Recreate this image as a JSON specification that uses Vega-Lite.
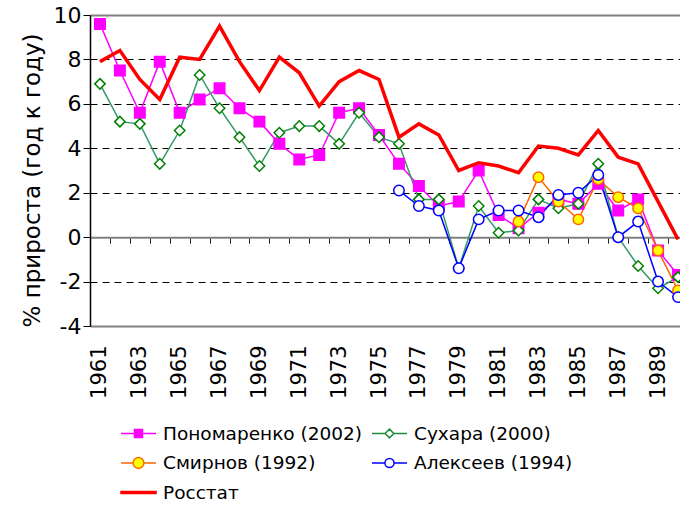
{
 "$schema": "https://vega.github.io/schema/vega-lite/v6.json",
 "width": 590,
 "height": 311,
 "autosize": "none",
 "padding": {"left": 90, "top": 15, "right": 0, "bottom": 179},
 "background": "white",
 "config": {"view": {"stroke": null}, "font": "DejaVu Sans"},
 "datasets": {
  "d": [
   {"year":1961,"series":"Пономаренко (2002)","value":9.6},{"year":1962,"series":"Пономаренко (2002)","value":7.5},{"year":1963,"series":"Пономаренко (2002)","value":5.6},{"year":1964,"series":"Пономаренко (2002)","value":7.9},{"year":1965,"series":"Пономаренко (2002)","value":5.6},{"year":1966,"series":"Пономаренко (2002)","value":6.2},{"year":1967,"series":"Пономаренко (2002)","value":6.7},{"year":1968,"series":"Пономаренко (2002)","value":5.8},{"year":1969,"series":"Пономаренко (2002)","value":5.2},{"year":1970,"series":"Пономаренко (2002)","value":4.2},{"year":1971,"series":"Пономаренко (2002)","value":3.5},{"year":1972,"series":"Пономаренко (2002)","value":3.7},{"year":1973,"series":"Пономаренко (2002)","value":5.6},{"year":1974,"series":"Пономаренко (2002)","value":5.8},{"year":1975,"series":"Пономаренко (2002)","value":4.6},{"year":1976,"series":"Пономаренко (2002)","value":3.3},{"year":1977,"series":"Пономаренко (2002)","value":2.3},{"year":1978,"series":"Пономаренко (2002)","value":1.4},{"year":1979,"series":"Пономаренко (2002)","value":1.6},{"year":1980,"series":"Пономаренко (2002)","value":3.0},{"year":1981,"series":"Пономаренко (2002)","value":1.0},{"year":1982,"series":"Пономаренко (2002)","value":0.4},{"year":1983,"series":"Пономаренко (2002)","value":1.1},{"year":1984,"series":"Пономаренко (2002)","value":1.7},{"year":1985,"series":"Пономаренко (2002)","value":1.5},{"year":1986,"series":"Пономаренко (2002)","value":2.4},{"year":1987,"series":"Пономаренко (2002)","value":1.2},{"year":1988,"series":"Пономаренко (2002)","value":1.7},{"year":1989,"series":"Пономаренко (2002)","value":-0.6},{"year":1990,"series":"Пономаренко (2002)","value":-1.7},
   {"year":1961,"series":"Сухара (2000)","value":6.9},{"year":1962,"series":"Сухара (2000)","value":5.2},{"year":1963,"series":"Сухара (2000)","value":5.1},{"year":1964,"series":"Сухара (2000)","value":3.3},{"year":1965,"series":"Сухара (2000)","value":4.8},{"year":1966,"series":"Сухара (2000)","value":7.3},{"year":1967,"series":"Сухара (2000)","value":5.8},{"year":1968,"series":"Сухара (2000)","value":4.5},{"year":1969,"series":"Сухара (2000)","value":3.2},{"year":1970,"series":"Сухара (2000)","value":4.7},{"year":1971,"series":"Сухара (2000)","value":5.0},{"year":1972,"series":"Сухара (2000)","value":5.0},{"year":1973,"series":"Сухара (2000)","value":4.2},{"year":1974,"series":"Сухара (2000)","value":5.6},{"year":1975,"series":"Сухара (2000)","value":4.5},{"year":1976,"series":"Сухара (2000)","value":4.2},{"year":1977,"series":"Сухара (2000)","value":1.7},{"year":1978,"series":"Сухара (2000)","value":1.7},{"year":1979,"series":"Сухара (2000)","value":-1.4},{"year":1980,"series":"Сухара (2000)","value":1.4},{"year":1981,"series":"Сухара (2000)","value":0.2},{"year":1982,"series":"Сухара (2000)","value":0.3},{"year":1983,"series":"Сухара (2000)","value":1.7},{"year":1984,"series":"Сухара (2000)","value":1.3},{"year":1985,"series":"Сухара (2000)","value":1.5},{"year":1986,"series":"Сухара (2000)","value":3.3},{"year":1987,"series":"Сухара (2000)","value":0.0},{"year":1988,"series":"Сухара (2000)","value":-1.3},{"year":1989,"series":"Сухара (2000)","value":-2.3},{"year":1990,"series":"Сухара (2000)","value":-1.8},
   {"year":1982,"series":"Смирнов (1992)","value":0.7},{"year":1983,"series":"Смирнов (1992)","value":2.7},{"year":1984,"series":"Смирнов (1992)","value":1.6},{"year":1985,"series":"Смирнов (1992)","value":0.8},{"year":1986,"series":"Смирнов (1992)","value":2.6},{"year":1987,"series":"Смирнов (1992)","value":1.8},{"year":1988,"series":"Смирнов (1992)","value":1.3},{"year":1989,"series":"Смирнов (1992)","value":-0.6},{"year":1990,"series":"Смирнов (1992)","value":-2.4},
   {"year":1976,"series":"Алексеев (1994)","value":2.1},{"year":1977,"series":"Алексеев (1994)","value":1.4},{"year":1978,"series":"Алексеев (1994)","value":1.2},{"year":1979,"series":"Алексеев (1994)","value":-1.4},{"year":1980,"series":"Алексеев (1994)","value":0.8},{"year":1981,"series":"Алексеев (1994)","value":1.2},{"year":1982,"series":"Алексеев (1994)","value":1.2},{"year":1983,"series":"Алексеев (1994)","value":0.9},{"year":1984,"series":"Алексеев (1994)","value":1.9},{"year":1985,"series":"Алексеев (1994)","value":2.0},{"year":1986,"series":"Алексеев (1994)","value":2.8},{"year":1987,"series":"Алексеев (1994)","value":0.0},{"year":1988,"series":"Алексеев (1994)","value":0.7},{"year":1989,"series":"Алексеев (1994)","value":-2.0},{"year":1990,"series":"Алексеев (1994)","value":-2.7},
   {"year":1961,"series":"Росстат","value":7.9},{"year":1962,"series":"Росстат","value":8.4},{"year":1963,"series":"Росстат","value":7.1},{"year":1964,"series":"Росстат","value":6.2},{"year":1965,"series":"Росстат","value":8.1},{"year":1966,"series":"Росстат","value":8.0},{"year":1967,"series":"Росстат","value":9.5},{"year":1968,"series":"Росстат","value":7.9},{"year":1969,"series":"Росстат","value":6.6},{"year":1970,"series":"Росстат","value":8.1},{"year":1971,"series":"Росстат","value":7.4},{"year":1972,"series":"Росстат","value":5.9},{"year":1973,"series":"Росстат","value":7.0},{"year":1974,"series":"Росстат","value":7.5},{"year":1975,"series":"Росстат","value":7.1},{"year":1976,"series":"Росстат","value":4.5},{"year":1977,"series":"Росстат","value":5.1},{"year":1978,"series":"Росстат","value":4.6},{"year":1979,"series":"Росстат","value":3.0},{"year":1980,"series":"Росстат","value":3.35},{"year":1981,"series":"Росстат","value":3.2},{"year":1982,"series":"Росстат","value":2.9},{"year":1983,"series":"Росстат","value":4.1},{"year":1984,"series":"Росстат","value":4.0},{"year":1985,"series":"Росстат","value":3.7},{"year":1986,"series":"Росстат","value":4.8},{"year":1987,"series":"Росстат","value":3.6},{"year":1988,"series":"Росстат","value":3.3},{"year":1989,"series":"Росстат","value":1.6},{"year":1990,"series":"Росстат","value":-0.1}
  ]
 },
 "data": {"name": "d"},
 "resolve": {"axis": {"x": "independent"}},
 "layer": [
  {
   "transform": [{"filter": "datum.series !== 'Росстат'"}],
   "mark": {"type": "line", "strokeWidth": 1.5},
   "encoding": {
    "x": {"field": "year", "type": "quantitative",
     "scale": {"domain": [1960.5, 1990.1], "nice": false, "zero": false},
     "axis": {"orient": "bottom", "title": null, "values": [1961,1963,1965,1967,1969,1971,1973,1975,1977,1979,1981,1983,1985,1987,1989], "format": "d", "labelAngle": 270, "ticks": false, "tickSize": 0, "labelPadding": 19, "labelFontSize": 21, "labelFont": "DejaVu Sans", "labelColor": "black", "labelFlush": false, "labelOverlap": false, "domainColor": "#808080", "domainWidth": 2, "grid": false}},
    "y": {"field": "value", "type": "quantitative",
     "scale": {"domain": [-4, 10], "nice": false, "zero": false},
     "axis": {"values": [-4,-2,0,2,4,6,8,10], "labelExpr": "'' + datum.value", "title": "% прироста (год к году)", "titleFontSize": 23, "titleFont": "DejaVu Sans", "titleFontWeight": "normal", "titleColor": "black", "titleAngle": 270, "titleX": -58, "titleY": 165, "titleAlign": "center", "titleBaseline": "middle", "labelFontSize": 22, "labelFont": "DejaVu Sans", "labelColor": "black", "labelPadding": 2, "tickSize": 7, "tickColor": "black", "domainColor": "black", "domainWidth": 1.5, "grid": true, "gridColor": "black", "gridDash": [7, 5], "gridWidth": 1, "gridOpacity": {"condition": {"test": "datum.value == 10 || datum.value == -4 || datum.value == 0", "value": 0}, "value": 1}}},
    "color": {"field": "series", "type": "nominal",
     "scale": {"domain": ["Пономаренко (2002)", "Сухара (2000)", "Смирнов (1992)", "Алексеев (1994)"], "range": ["#FF00FF", "#339966", "#FF6600", "#0000FF"]},
     "legend": null}
   }
  },
  {
   "transform": [{"filter": "datum.series !== 'Росстат'"}],
   "mark": {"type": "point", "filled": true, "strokeWidth": 1.5, "size": 110, "opacity": 1},
   "encoding": {
    "x": {"field": "year", "type": "quantitative",
     "axis": {"orient": "top", "title": null, "labels": false, "ticks": false, "domainColor": "#808080", "domainWidth": 2, "grid": false}},
    "y": {"field": "value", "type": "quantitative"},
    "shape": {"field": "series", "type": "nominal",
     "scale": {"domain": ["Пономаренко (2002)", "Сухара (2000)", "Смирнов (1992)", "Алексеев (1994)"], "range": ["square", "diamond", "circle", "circle"]},
     "legend": null},
    "fill": {"field": "series", "type": "nominal",
     "scale": {"domain": ["Пономаренко (2002)", "Сухара (2000)", "Смирнов (1992)", "Алексеев (1994)", "Росстат"], "range": ["#FF00FF", "#FFFFFF", "#FFFF00", "#FFFFFF", "#FF0000"]},
     "legend": {"orient": "none", "legendX": 30, "legendY": 400, "columns": 2, "direction": "horizontal", "title": null, "padding": 0, "symbolSize": 1225, "symbolStrokeWidth": 1.5, "labelFontSize": 18.5, "labelFont": "DejaVu Sans", "labelColor": "black", "labelLimit": 400, "labelOffset": 6, "rowPadding": 1.5, "columnPadding": 6,
      "encoding": {"symbols": {
       "shape": {"value": {"expr": "datum.value == 'Пономаренко (2002)' ? 'M-1,0H1M-0.23,-0.23H0.23V0.23H-0.23Z' : datum.value == 'Сухара (2000)' ? 'M-1,0H-0.25M0.25,0H1M0,-0.25L0.25,0L0,0.25L-0.25,0Z' : datum.value == 'Смирнов (1992)' ? 'M-1,0H-0.31M0.31,0H1M-0.31,0A0.31,0.31,0,1,1,0.31,0A0.31,0.31,0,1,1,-0.31,0Z' : datum.value == 'Алексеев (1994)' ? 'M-1,0H-0.26M0.26,0H1M-0.26,0A0.26,0.26,0,1,1,0.26,0A0.26,0.26,0,1,1,-0.26,0Z' : 'M-1,-0.06H1V0.06H-1Z'"}},
       "stroke": {"value": {"expr": "datum.value == 'Пономаренко (2002)' ? '#FF00FF' : datum.value == 'Сухара (2000)' ? '#1E8C3C' : datum.value == 'Смирнов (1992)' ? '#FF6600' : datum.value == 'Алексеев (1994)' ? '#0000FF' : '#FF0000'"}},
       "opacity": {"value": 1}
      }}}},
    "stroke": {"field": "series", "type": "nominal",
     "scale": {"domain": ["Пономаренко (2002)", "Сухара (2000)", "Смирнов (1992)", "Алексеев (1994)"], "range": ["#FF00FF", "#008000", "#FF6600", "#0000FF"]},
     "legend": null}
   }
  },
  {
   "transform": [{"filter": "datum.series === 'Росстат'"}],
   "mark": {"type": "line", "strokeWidth": 3.5, "color": "#FF0000"},
   "encoding": {
    "x": {"field": "year", "type": "quantitative",
     "axis": {"orient": "bottom", "offset": -88.86, "title": null, "labels": false, "values": [1960.5,1961.5,1962.5,1963.5,1964.5,1965.5,1966.5,1967.5,1968.5,1969.5,1970.5,1971.5,1972.5,1973.5,1974.5,1975.5,1976.5,1977.5,1978.5,1979.5,1980.5,1981.5,1982.5,1983.5,1984.5,1985.5,1986.5,1987.5,1988.5,1989.5], "ticks": true, "tickSize": 6, "tickColor": "#222222", "tickWidth": 1, "domainColor": "#808080", "domainWidth": 2, "grid": false}},
    "y": {"field": "value", "type": "quantitative"}
   }
  }
 ]
}
